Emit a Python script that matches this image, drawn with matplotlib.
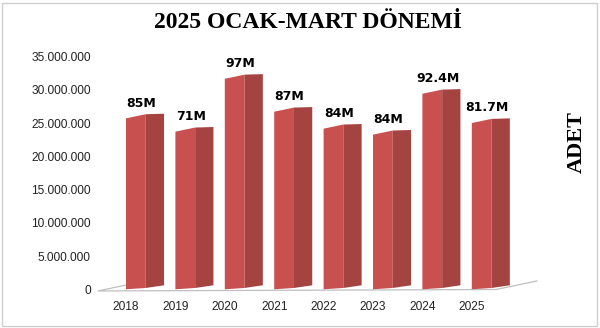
import matplotlib
matplotlib.use("Agg")
import matplotlib.pyplot as plt
from matplotlib.patches import Rectangle

# ---- data ----
years = ["2018", "2019", "2020", "2021", "2022", "2023", "2024", "2025"]
values = [25.7e6, 23.7e6, 31.65e6, 26.7e6, 24.15e6, 23.25e6, 29.4e6, 25.0e6]
value_labels = ["85M", "71M", "97M", "87M", "84M", "84M", "92.4M", "81.7M"]
y_ticks = [0, 5e6, 10e6, 15e6, 20e6, 25e6, 30e6, 35e6]
y_tick_labels = ["0", "5.000.000", "10.000.000", "15.000.000", "20.000.000",
                 "25.000.000", "30.000.000", "35.000.000"]
title = "2025 OCAK-MART DÖNEMİ"
y_title = "ADET"

# ---- style ----
FRONT = "#C8504E"
SIDE = "#A4433F"
FLOOR = "#BFBFBF"
W_FRONT = 0.40
W_SIDE = 0.37
TOP_RISE_FRONT = 0.62e6
TOP_RISE_SIDE = 0.70e6
BOT_RISE_FRONT = 0.20e6
BOT_RISE_SIDE = 0.60e6

W, H, DPI = 600, 328, 100
fig = plt.figure(figsize=(W / DPI, H / DPI), dpi=DPI)

ax_left_px, ax_right_px = 95, 545
x0_px, step_px = 126, 49.4
xlim = ((ax_left_px - x0_px) / step_px, (ax_right_px - x0_px) / step_px)
ylim = (-1.5e6, 35.5e6)
px_per_unit = (289.3 - 56.5) / 35e6
ax_bottom_px = 289.3 + (0 - ylim[0]) * px_per_unit
ax_top_px = 289.3 - (ylim[1]) * px_per_unit
ax = fig.add_axes([ax_left_px / W, 1 - ax_bottom_px / H,
                   (ax_right_px - ax_left_px) / W, (ax_bottom_px - ax_top_px) / H])
ax.set_xlim(*xlim)
ax.set_ylim(*ylim)
for s in ax.spines.values():
    s.set_visible(False)
ax.patch.set_alpha(0)

# floor (3D base outline)
n = len(values)
fl = (-0.567, -0.25e6)
fr = (n - 0.51, -0.03e6)
br = (n + 0.32, 1.25e6)
bl = (fl[0] + (br[0] - fr[0]), 1.05e6)
ax.plot([bl[0], fl[0], fr[0], br[0]], [bl[1], fl[1], fr[1], br[1]],
        color=FLOOR, lw=0.9, zorder=1)

# bars
for i, v in enumerate(values):
    x0 = i
    x1 = i + W_FRONT
    x2 = x1 + W_SIDE
    ax.fill([x0, x1, x1, x0], [0, BOT_RISE_FRONT, v + TOP_RISE_FRONT, v],
            color=FRONT, lw=0, zorder=3)
    ax.fill([x1, x2, x2, x1],
            [BOT_RISE_FRONT, BOT_RISE_SIDE, v + TOP_RISE_SIDE, v + TOP_RISE_FRONT],
            color=SIDE, lw=0, zorder=3)
    ax.annotate(value_labels[i], xy=(i + 0.31, v), xytext=(0, 8.3),
                textcoords="offset points", ha="center", va="baseline",
                fontsize=9, fontweight="bold", family="DejaVu Sans", zorder=5)

ax.set_yticks(y_ticks)
ax.set_yticklabels(y_tick_labels, fontsize=8.6, family="Liberation Sans", color="#222222")
ax.set_xticks(range(n))
ax.set_xticklabels(years, fontsize=8.6, family="Liberation Sans", color="#222222")
ax.tick_params(axis="y", length=0, pad=3)
ax.tick_params(axis="x", length=0, pad=1.5)

fig.text(307.5 / W, 1 - 28 / H, title, ha="center", va="baseline",
         fontsize=17, fontweight="bold", family="Liberation Serif")
fig.text(576.5 / W, 1 - 142 / H, y_title, ha="center", va="center", rotation=90,
         fontsize=16, fontweight="bold", family="Liberation Serif")

fig.patches.append(Rectangle((2 / W, 2 / H), 595 / W, 323.5 / H,
                             transform=fig.transFigure, fill=False,
                             edgecolor="#D0D0D0", lw=1))

fig.savefig("out.png", dpi=DPI)
